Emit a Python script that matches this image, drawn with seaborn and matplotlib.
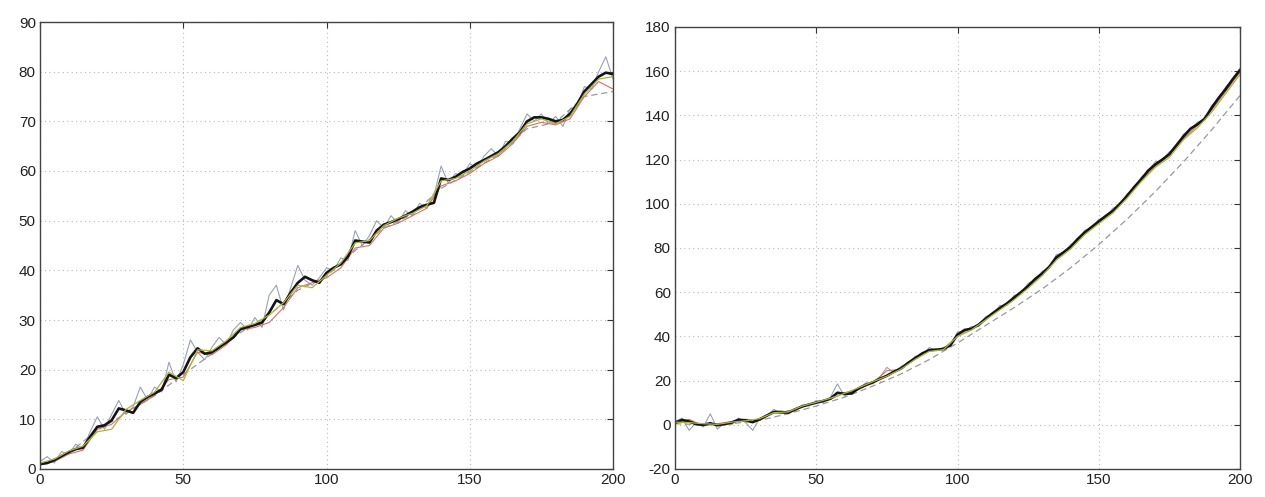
import numpy as np
import pandas as pd
import matplotlib
matplotlib.use("Agg")
import matplotlib.pyplot as plt
import seaborn as sns

# ---- data -------------------------------------------------------------
t_fine = np.arange(0, 200.1, 2.5)
t_mid = np.arange(0, 200.1, 5)
t_coarse = np.arange(0, 200.1, 10)

# left panel (linear trend)
left_true = [1.0, 1.2, 1.8, 2.6, 3.4, 4.0, 4.3, 6.5, 8.5, 8.8,
             9.8, 12.2, 11.8, 11.3, 13.5, 14.5, 15.2, 16.0, 19.0, 18.3,
             19.5, 22.5, 24.3, 23.2, 23.5, 24.5, 25.5, 26.5, 28.2, 28.6,
             29.0, 29.5, 31.5, 34.0, 33.2, 35.5, 37.5, 38.7, 38.0, 37.5,
             39.5, 40.5, 41.2, 42.8, 46.0, 45.8, 45.6, 48.0, 49.2, 49.7,
             50.3, 51.0, 51.8, 52.7, 53.2, 53.6, 58.5, 58.2, 58.8, 59.8,
             60.5, 61.5, 62.2, 63.0, 63.8, 65.0, 66.5, 67.8, 70.0, 70.8,
             70.8, 70.5, 70.0, 70.3, 71.5, 73.5, 76.0, 77.5, 79.0, 79.8,
             79.5]
left_meas = [1.5, 2.5, 1.2, 3.5, 3.0, 5.0, 4.0, 7.5, 10.5, 8.0,
             11.0, 13.8, 11.0, 12.5, 16.5, 14.0, 16.5, 15.5, 21.5, 17.5,
             21.0, 26.0, 23.5, 22.0, 24.5, 26.5, 25.0, 28.0, 29.5, 28.0,
             30.5, 28.5, 35.0, 37.0, 32.0, 36.5, 41.0, 38.0, 37.0, 38.5,
             40.5, 40.0, 42.5, 42.0, 48.0, 45.0, 47.0, 50.0, 48.5, 51.0,
             49.5, 52.0, 51.0, 53.5, 52.5, 55.0, 61.0, 57.5, 59.5, 59.0,
             61.5, 60.5, 63.0, 64.5, 63.0, 66.0, 65.5, 68.5, 71.5, 70.0,
             71.5, 69.5, 71.0, 69.0, 72.5, 73.0, 77.0, 76.5, 80.0, 83.0,
             78.5]
left_est_a = [0.8, 1.5, 3.0, 3.8, 8.0, 9.0, 11.5, 13.0, 14.8, 18.0,
              18.5, 23.5, 23.0, 25.0, 28.0, 28.5, 29.5, 32.5, 36.5, 37.5,
              38.5, 40.5, 44.5, 45.0, 48.5, 49.5, 51.0, 52.5, 57.0, 58.0,
              59.5, 61.5, 63.0, 65.5, 69.0, 69.8, 69.3, 70.5, 75.0, 78.0,
              76.5]
left_est_b = [1.2, 2.0, 3.6, 4.6, 7.5, 8.0, 12.0, 13.8, 15.5, 19.5,
              17.8, 24.0, 23.8, 25.8, 28.5, 29.3, 31.0, 33.5, 37.0, 36.5,
              39.0, 41.5, 45.5, 46.0, 49.0, 50.5, 51.5, 53.0, 58.0, 58.5,
              60.0, 62.0, 63.5, 66.0, 69.5, 70.5, 69.5, 71.0, 75.5, 78.5,
              79.0]
left_model = [0.8, 3.2, 7.8, 11.2, 14.8, 19.0, 23.2, 27.5, 31.0, 36.0,
              38.8, 44.0, 48.5, 51.3, 56.5, 59.8, 63.3, 68.5, 69.8, 75.0,
              76.0]

# right panel (quadratic trend)
right_true = [1.0, 2.2, 1.5, 0.3, 0.0, 0.7, -0.2, 0.3, 1.0, 2.3,
              2.0, 1.2, 2.5, 4.2, 5.8, 5.8, 5.5, 7.0, 8.3, 9.2,
              10.0, 10.8, 11.8, 14.5, 14.0, 14.2, 16.5, 18.0, 19.2, 20.8,
              22.2, 24.0, 25.5, 28.0, 30.1, 32.3, 33.8, 34.0, 34.3, 36.0,
              40.8, 42.9, 43.5, 45.3, 48.0, 50.5, 52.8, 54.9, 57.5, 60.0,
              62.8, 66.0, 68.5, 71.5, 75.8, 78.0, 80.5, 84.0, 87.0, 89.5,
              92.0, 94.5, 96.8, 100.0, 103.5, 107.5, 111.0, 115.0, 117.8, 120.0,
              122.5, 126.5, 130.5, 134.0, 136.0, 138.5, 143.5, 148.0, 152.0, 156.5,
              160.5]
right_meas = [1.5, 3.0, -2.5, 1.0, -1.0, 5.0, -2.0, 1.0, 0.0, 3.0,
              1.0, -2.5, 3.0, 4.0, 7.0, 5.0, 6.5, 6.0, 9.0, 8.5,
              11.0, 10.0, 12.5, 18.5, 13.0, 15.0, 16.0, 19.0, 18.5, 21.5,
              26.0, 23.5, 26.5, 27.5, 31.0, 31.5, 35.0, 33.5, 35.0, 35.5,
              42.0, 42.0, 44.5, 44.5, 49.0, 50.0, 54.0, 54.0, 58.5, 59.5,
              64.0, 65.5, 69.5, 71.0, 77.0, 77.5, 81.5, 83.5, 88.0, 89.0,
              93.0, 94.0, 98.0, 99.5, 104.5, 107.0, 112.0, 114.5, 119.0, 119.5,
              123.5, 126.0, 131.5, 133.5, 137.0, 138.0, 144.5, 147.5, 153.0, 156.0,
              161.5]
right_est_a = [0.5, 2.5, -0.5, 0.5, 1.5, 2.5, 2.0, 5.5, 5.0, 8.0,
               10.5, 11.5, 14.5, 16.0, 19.0, 24.5, 25.0, 30.5, 33.5, 34.5,
               40.0, 43.0, 48.5, 53.0, 57.0, 62.5, 68.0, 75.0, 80.0, 86.5,
               91.5, 96.5, 103.0, 110.5, 117.0, 122.0, 129.5, 135.5, 142.5, 151.0,
               159.5]
right_est_b = [1.2, 1.0, 0.5, 0.2, 1.2, 1.8, 2.8, 5.5, 5.8, 8.5,
               10.2, 12.0, 14.2, 16.8, 19.5, 22.0, 25.2, 29.6, 33.2, 34.0,
               40.0, 43.0, 47.5, 52.0, 56.5, 61.8, 67.5, 74.5, 79.5, 86.0,
               91.0, 95.8, 102.5, 110.0, 116.5, 121.0, 129.0, 134.5, 141.5, 150.0,
               158.5]
right_model = [0.5, 0.0, 0.5, 2.0, 5.0, 8.5, 12.5, 17.5, 23.0, 29.5,
               37.0, 45.0, 53.0, 61.5, 71.0, 81.5, 93.0, 105.5, 119.0, 133.5,
               149.0]

x_ticks = [0, 50, 100, 150, 200]
left_yticks = [0, 10, 20, 30, 40, 50, 60, 70, 80, 90]
right_yticks = [-20, 0, 20, 40, 60, 80, 100, 120, 140, 160, 180]

# ---- drawing ----------------------------------------------------------
sns.set_theme(style="white")
plt.rcParams["font.family"] = ["Liberation Sans", "DejaVu Sans"]

fig = plt.figure(figsize=(12.65, 4.97), dpi=100)
ax_l = fig.add_axes([40 / 1265, 28 / 497, 573 / 1265, 447 / 497])
ax_r = fig.add_axes([675 / 1265, 28 / 497, 565 / 1265, 442 / 497])


def draw_panel(ax, true, meas, est_a, est_b, model, yticks):
    sns.lineplot(x=t_coarse, y=model, ax=ax, color="#999999", lw=0.9,
                 linestyle=(0, (5, 3)))
    sns.lineplot(x=t_fine, y=meas, ax=ax, color="#8592ab", lw=0.8, alpha=0.85)
    sns.lineplot(x=t_mid, y=est_a, ax=ax, color="#d8706a", lw=0.8)
    sns.lineplot(x=t_fine, y=true, ax=ax, color="#151515", lw=1.9)
    sns.lineplot(x=t_mid, y=est_b, ax=ax, color="#aab63e", lw=0.9)

    ax.set_xlim(0, 200)
    ax.set_ylim(yticks[0], yticks[-1])
    ax.set_xticks(x_ticks)
    ax.set_yticks(yticks)
    ax.set_xticklabels([str(v) for v in x_ticks])
    ax.set_yticklabels([str(v) for v in yticks])
    ax.grid(True, color="#b8b8b8", lw=0.8, linestyle=(0, (1, 3)))
    ax.tick_params(direction="in", length=4, width=0.8, color="#333333",
                   labelsize=11, labelcolor="#222222",
                   top=True, right=True, pad=3)
    for s in ax.spines.values():
        s.set_visible(True)
        s.set_color("#444444")
        s.set_linewidth(1.0)
    ax.set_xlabel("")
    ax.set_ylabel("")


draw_panel(ax_l, left_true, left_meas, left_est_a, left_est_b, left_model,
           left_yticks)
draw_panel(ax_r, right_true, right_meas, right_est_a, right_est_b, right_model,
           right_yticks)

fig.savefig("out.png", dpi=100, facecolor="white")
